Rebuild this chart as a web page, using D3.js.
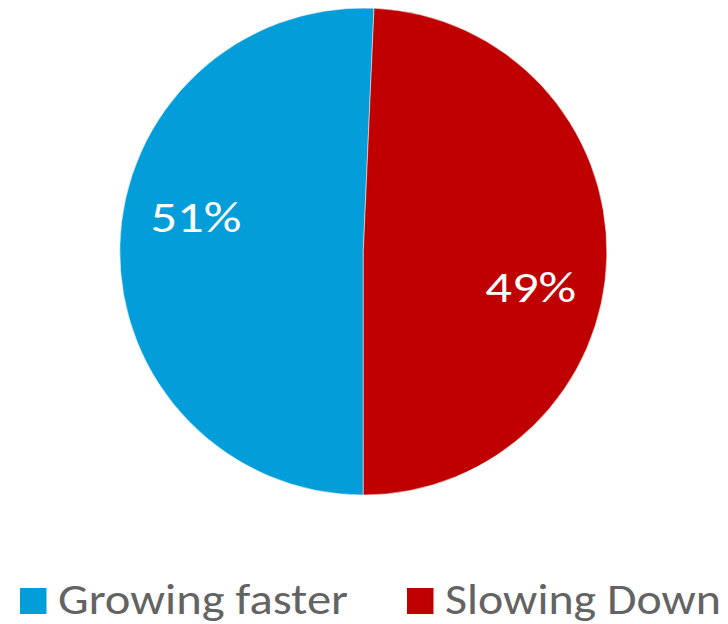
<!DOCTYPE html>
<html>
<head>
<meta charset="utf-8">
<script src="https://cdn.jsdelivr.net/npm/d3@7"></script>
<style>
  html, body { margin: 0; padding: 0; background: #ffffff; }
  svg { display: block; }
</style>
</head>
<body>
<svg id="chart" width="728" height="624"></svg>
<script>
const categories = ["Growing faster", "Slowing Down"];
const values = [50.7, 49.3];
const labels = ["51%", "49%"];
const colors = ["#039DD9", "#C00000"];

const svg = d3.select("#chart");
const cx = 363.3, cy = 251.5, radius = 243.5;
const g = svg.append("g").attr("transform", `translate(${cx},${cy})`);

const data = categories.map((c, i) => ({ name: c, value: values[i], label: labels[i], color: colors[i] }));

const pie = d3.pie().sort(null).value(d => d.value).startAngle(Math.PI).endAngle(3 * Math.PI);
const arc = d3.arc().innerRadius(0).outerRadius(radius);
const arcs = pie(data);

g.selectAll("path.slice")
  .data(arcs)
  .join("path")
  .attr("class", "slice")
  .attr("d", arc)
  .attr("fill", d => d.data.color)
  .attr("stroke", "#ffffff")
  .attr("stroke-width", 0.5);

const fontStack = "Carlito, Lato, 'Open Sans', sans-serif";
const labelR = 171, labelShift = 10.5 * Math.PI / 180;
g.selectAll("text.lbl")
  .data(arcs)
  .join("text")
  .attr("class", "lbl")
  .attr("x", d => labelR * Math.sin((d.startAngle + d.endAngle) / 2 + labelShift))
  .attr("y", d => -labelR * Math.cos((d.startAngle + d.endAngle) / 2 + labelShift))
  .attr("text-anchor", "middle")
  .attr("dy", "0.36em")
  .attr("fill", "#ffffff")
  .attr("textLength", 91)
  .attr("lengthAdjust", "spacingAndGlyphs")
  .style("font-family", fontStack)
  .style("font-size", "43px")
  .text(d => d.data.label);

// legend
const legendX = d3.scalePoint().domain(categories).range([20, 407]);
const legendTextWidth = d3.scaleOrdinal().domain(categories).range([290, 276]);
const lg = svg.append("g").selectAll("g.leg")
  .data(data)
  .join("g")
  .attr("class", "leg")
  .attr("transform", d => `translate(${legendX(d.name)},588)`);
lg.append("rect").attr("width", 26.5).attr("height", 26).attr("fill", d => d.color);
lg.append("text")
  .attr("x", 38)
  .attr("y", 26)
  .attr("fill", "#636363")
  .attr("textLength", d => legendTextWidth(d.name))
  .attr("lengthAdjust", "spacingAndGlyphs")
  .style("font-family", fontStack)
  .style("font-size", "43px")
  .text(d => d.name);
</script>
</body>
</html>
